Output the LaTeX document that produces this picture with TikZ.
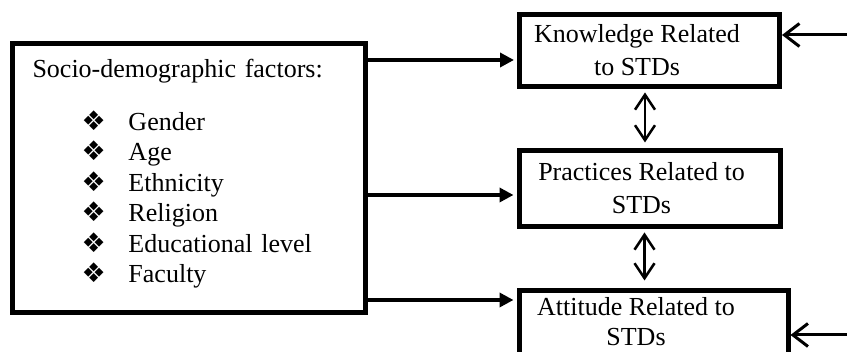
\documentclass[tikz,border=0pt]{standalone}
\usepackage{fontspec}
\setmainfont{Liberation Serif}
\newfontfamily\markfont{DejaVu Sans}
\usetikzlibrary{arrows.meta,positioning}
\newcommand{\itemmark}{{\markfont\fontsize{27}{27}\selectfont ❖}}
\newcommand{\factoritem}[1]{\hspace*{49pt}\makebox[47pt][l]{\itemmark}#1}
\newcommand{\nudge}[1][25pt]{\hspace*{-#1}}
\newcommand{\deepline}[1]{\rule[-#1]{0pt}{0pt}}
\tikzset{
  factorbox/.style={draw=black,line width=5pt,text width=313pt,inner xsep=20pt,
    minimum height=269pt,align=left,font=\fontsize{26}{30.5}\selectfont},
  relbox/.style={draw=black,line width=5pt,minimum width=261pt,
    minimum height=74pt,align=center,font=\fontsize{26}{33}\selectfont},
  flowarrow/.style={-{Triangle[length=14pt,width=14pt]},
    line width=3.5pt,shorten >=3pt},
  linkarrow/.style={{Straight Barb[length=15pt,width=20pt]}-{Straight Barb[length=15pt,width=20pt]},
    line width=2.5pt,shorten <=3.5pt,shorten >=5.5pt},
  inarrow/.style={-{Straight Barb[length=15pt,width=23pt]},line width=3pt},
}

\begin{document}
\begin{tikzpicture}[x=1pt,y=1pt,node distance=59pt]
  \useasboundingbox (0,0) rectangle (847,352);
  \node[factorbox] (fac) at (189,174) {Socio-demographic factors:\\[22.5pt]
    \factoritem{Gender}\\
    \factoritem{Age}\\
    \factoritem{Ethnicity}\\
    \factoritem{Religion}\\
    \factoritem{Educational level}\\
    \factoritem{Faculty}\deepline{14pt}};
  \node[relbox,minimum width=260pt,minimum height=72pt] (know) at (649.5,301.5) {\nudge Knowledge Related\\\nudge to STDs};
  \node[relbox,minimum height=76pt,below=of know] (prac) {\nudge[16pt]Practices Related to\\\nudge[16pt]STDs};
  \node[relbox,minimum width=269pt,below=of prac,xshift=4pt,
    font=\fontsize{26}{30}\selectfont] (att) {\nudge[35pt]Attitude Related to\\\nudge[35pt]STDs\deepline{13pt}};
  \coordinate (kin) at (850,317);
  \coordinate (ain) at (850,17);
  \draw[flowarrow] ([yshift=-9.5pt]know.west -| fac.east) -- ([yshift=-9.5pt]know.west);
  \draw[flowarrow] ([yshift=-6.5pt]prac.west -| fac.east) -- ([yshift=-6.5pt]prac.west);
  \draw[flowarrow] ([yshift=27.5pt]att.west -| fac.east) -- ([yshift=27.5pt]att.west);
  \draw[linkarrow] ([xshift=-4.5pt]know.south) -- ([xshift=-4.5pt]know.south |- prac.north);
  \draw[linkarrow,shorten >=7.5pt] ([xshift=-5pt]prac.south) -- ([xshift=-5pt]prac.south |- att.north);
  \draw[inarrow] (kin) -- (kin -| know.east);
  \draw[inarrow] (ain) -- (ain -| att.east);
\end{tikzpicture}
\end{document}
